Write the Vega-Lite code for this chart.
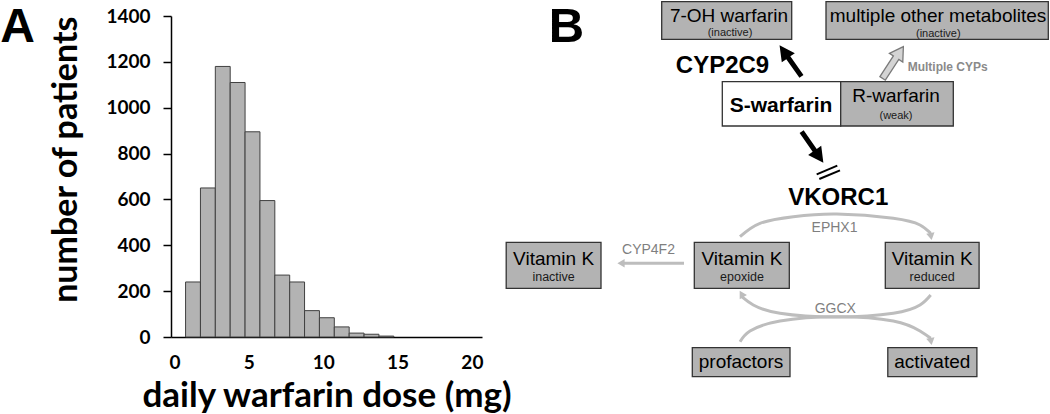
{
"$schema":"https://vega.github.io/schema/vega-lite/v6.json",
"background":"white",
"padding":{"left":0,"top":1,"right":0,"bottom":0},
"bounds":"flush",
"spacing":8,
"config":{"view":{"stroke":null},"axis":{"grid":false}},
"datasets":{
"hist":[
{"dose_start":0.75,"dose_end":1.75,"patients":240},
{"dose_start":1.75,"dose_end":2.75,"patients":650},
{"dose_start":2.75,"dose_end":3.75,"patients":1180},
{"dose_start":3.75,"dose_end":4.75,"patients":1110},
{"dose_start":4.75,"dose_end":5.75,"patients":895},
{"dose_start":5.75,"dose_end":6.75,"patients":595},
{"dose_start":6.75,"dose_end":7.75,"patients":270},
{"dose_start":7.75,"dose_end":8.75,"patients":240},
{"dose_start":8.75,"dose_end":9.75,"patients":115},
{"dose_start":9.75,"dose_end":10.75,"patients":84},
{"dose_start":10.75,"dose_end":11.75,"patients":44},
{"dose_start":11.75,"dose_end":12.75,"patients":17},
{"dose_start":12.75,"dose_end":13.75,"patients":12},
{"dose_start":13.75,"dose_end":14.75,"patients":4}
],
"boxes":[
{"name":"7-OH warfarin","left":171.7,"right":301.7,"top":1.7,"bottom":39.3,"role":"plain"},
{"name":"multiple other metabolites","left":336,"right":558.3,"top":1.7,"bottom":39.3,"role":"plain"},
{"name":"S-warfarin","left":232.3,"right":350.7,"top":81.7,"bottom":126,"role":"highlight"},
{"name":"R-warfarin","left":350.7,"right":463.3,"top":81.7,"bottom":126,"role":"plain"},
{"name":"Vitamin K inactive","left":16.2,"right":111,"top":242.3,"bottom":288.3,"role":"plain"},
{"name":"Vitamin K epoxide","left":204.3,"right":299.3,"top":242.3,"bottom":288.3,"role":"plain"},
{"name":"Vitamin K reduced","left":395.3,"right":489.1,"top":242.3,"bottom":288.3,"role":"plain"},
{"name":"profactors","left":202.3,"right":300,"top":347.7,"bottom":376.7,"role":"plain"},
{"name":"activated","left":397.8,"right":486.9,"top":347.7,"bottom":376.7,"role":"plain"}
],
"labels":[
{"text":"7-OH warfarin","x":239,"y":21.7,"kind":"main"},
{"text":"(inactive)","x":240,"y":36,"kind":"sub"},
{"text":"multiple other metabolites","x":448,"y":21.7,"kind":"main"},
{"text":"(inactive)","x":448.3,"y":36.5,"kind":"sub"},
{"text":"R-warfarin","x":406,"y":101.7,"kind":"main"},
{"text":"(weak)","x":406,"y":119.3,"kind":"sub"},
{"text":"Vitamin K","x":63.6,"y":265,"kind":"main"},
{"text":"inactive","x":63.6,"y":281,"kind":"sub2"},
{"text":"Vitamin K","x":252,"y":265,"kind":"main"},
{"text":"epoxide","x":252,"y":281,"kind":"sub2"},
{"text":"Vitamin K","x":442.2,"y":265,"kind":"main"},
{"text":"reduced","x":442.2,"y":281,"kind":"sub2"},
{"text":"profactors","x":251,"y":368.3,"kind":"main"},
{"text":"activated","x":442.3,"y":368.3,"kind":"main"},
{"text":"EPHX1","x":344.5,"y":231.7,"kind":"enzyme"},
{"text":"CYP4F2","x":158.5,"y":254.3,"kind":"enzyme"},
{"text":"GGCX","x":345.3,"y":313.3,"kind":"enzyme"},
{"text":"CYP2C9","x":232.5,"y":73.3,"kind":"gene"},
{"text":"VKORC1","x":348.3,"y":205,"kind":"gene"},
{"text":"S-warfarin","x":291,"y":112,"kind":"drug"},
{"text":"Multiple CYPs","x":457.7,"y":71,"kind":"note"},
{"text":"B","x":76.5,"y":42,"kind":"letter"}
],
"blocks":[
{"x":300.5,"y":60.85,"angle":-35.2,"kind":"strong"},
{"x":322.5,"y":147.2,"angle":145.1,"kind":"strong"},
{"x":403,"y":62.5,"angle":33.1,"kind":"weak"}
],
"links":[
{"x":326.7,"y":174.3,"xEnd":347.3,"yEnd":165.7,"kind":"inhibit"},
{"x":329.3,"y":179,"xEnd":350,"yEnd":170.3,"kind":"inhibit"},
{"x":194,"y":263.3,"xEnd":134,"yEnd":263.3,"kind":"conversion"}
],
"arcs":[
{"arc":"EPHX1","step":1,"x":250,"y":236.7},
{"arc":"EPHX1","step":2,"x":270,"y":223.3},
{"arc":"EPHX1","step":3,"x":303.3,"y":216.7},
{"arc":"EPHX1","step":4,"x":346.7,"y":214},
{"arc":"EPHX1","step":5,"x":403.3,"y":218.3},
{"arc":"EPHX1","step":6,"x":430,"y":225},
{"arc":"EPHX1","step":7,"x":440.7,"y":233.3},
{"arc":"GGCX-back","step":1,"x":440.7,"y":295},
{"arc":"GGCX-back","step":2,"x":430,"y":305},
{"arc":"GGCX-back","step":3,"x":403.3,"y":313.3},
{"arc":"GGCX-back","step":4,"x":346.7,"y":317},
{"arc":"GGCX-back","step":5,"x":290,"y":313.3},
{"arc":"GGCX-back","step":6,"x":263.3,"y":305},
{"arc":"GGCX-back","step":7,"x":251.7,"y":296.7},
{"arc":"GGCX-fwd","step":1,"x":250,"y":341.7},
{"arc":"GGCX-fwd","step":2,"x":260,"y":331},
{"arc":"GGCX-fwd","step":3,"x":290,"y":321},
{"arc":"GGCX-fwd","step":4,"x":346.7,"y":316.7},
{"arc":"GGCX-fwd","step":5,"x":403.3,"y":321},
{"arc":"GGCX-fwd","step":6,"x":430,"y":331},
{"arc":"GGCX-fwd","step":7,"x":440.7,"y":338.3}
],
"heads":[
{"x":441,"y":236.5,"angle":170},
{"x":251.5,"y":294,"angle":-30},
{"x":441,"y":341.5,"angle":170},
{"x":131,"y":263.3,"angle":-90}
]
},
"hconcat":[
{
"width":311,"height":321,
"title":{"text":"A","orient":"top","anchor":"start","frame":"group","dx":-170.7,"dy":44,"offset":-38.5,"baseline":"alphabetic","font":"Liberation Sans","fontSize":48,"fontWeight":"bold","color":"#000000"},
"data":{"name":"hist"},
"mark":{"type":"bar","fill":"#b3b3b3","stroke":"#404040","strokeWidth":1},
"encoding":{
"x":{"field":"dose_start","type":"quantitative","scale":{"domain":[-0.23,20.68],"nice":false,"zero":false},
"axis":{"values":[0,5,10,15,20],"ticks":false,"domainColor":"#000000","domainWidth":1.5,"labelFont":"Lato","labelFontSize":19,"labelFontWeight":"bold","labelColor":"#000000","labelPadding":16,"labelFlush":false,"title":"daily warfarin dose (mg)","titleFont":"Lato","titleFontSize":35,"titleFontWeight":"bold","titleColor":"#000000","titlePadding":6}},
"x2":{"field":"dose_end"},
"y":{"field":"patients","type":"quantitative","scale":{"domain":[0,1400],"nice":false},
"axis":{"values":[0,200,400,600,800,1000,1200,1400],"format":"d","tickSize":8,"tickWidth":1.5,"tickColor":"#000000","domainColor":"#000000","domainWidth":1.5,"labelFont":"Lato","labelFontSize":19,"labelFontWeight":"bold","labelColor":"#000000","labelPadding":13,"title":"number of patients","titleFont":"Lato","titleFontSize":34,"titleFontWeight":"bold","titleColor":"#000000","titlePadding":22,"titleAnchor":"end"}},
"y2":{"datum":0}
}
},
{
"width":560,"height":398,
"layer":[
{"data":{"name":"arcs"},
"mark":{"type":"line","interpolate":"natural","stroke":"#bdbdbd","strokeWidth":3},
"encoding":{"x":{"field":"x","type":"quantitative","scale":{"domain":[0,560],"nice":false,"zero":false},"axis":null},
"y":{"field":"y","type":"quantitative","scale":{"domain":[16,414],"nice":false,"zero":false,"reverse":true},"axis":null},
"detail":{"field":"arc"},"order":{"field":"step","type":"quantitative"}}},
{"data":{"name":"links"},"transform":[{"filter":{"field":"kind","equal":"conversion"}}],
"mark":{"type":"rule","stroke":"#bdbdbd","strokeWidth":3},
"encoding":{"x":{"field":"x","type":"quantitative","scale":{"domain":[0,560],"nice":false,"zero":false},"axis":null},
"y":{"field":"y","type":"quantitative","scale":{"domain":[16,414],"nice":false,"zero":false,"reverse":true},"axis":null},
"x2":{"field":"xEnd"},"y2":{"field":"yEnd"}}},
{"data":{"name":"heads"},
"mark":{"type":"point","shape":"triangle-up","filled":true,"fill":"#bdbdbd","opacity":1,"size":70},
"encoding":{"x":{"field":"x","type":"quantitative","scale":{"domain":[0,560],"nice":false,"zero":false},"axis":null},
"y":{"field":"y","type":"quantitative","scale":{"domain":[16,414],"nice":false,"zero":false,"reverse":true},"axis":null},
"angle":{"field":"angle","type":"quantitative","scale":null}}},
{"data":{"name":"links"},"transform":[{"filter":{"field":"kind","equal":"inhibit"}}],
"mark":{"type":"rule","stroke":"#000000","strokeWidth":2},
"encoding":{"x":{"field":"x","type":"quantitative","scale":{"domain":[0,560],"nice":false,"zero":false},"axis":null},
"y":{"field":"y","type":"quantitative","scale":{"domain":[16,414],"nice":false,"zero":false,"reverse":true},"axis":null},
"x2":{"field":"xEnd"},"y2":{"field":"yEnd"}}},
{"data":{"name":"boxes"},
"mark":{"type":"rect","stroke":"#333333","strokeWidth":1.3},
"encoding":{"x":{"field":"left","type":"quantitative","scale":{"domain":[0,560],"nice":false,"zero":false},"axis":null},
"x2":{"field":"right"},
"y":{"field":"top","type":"quantitative","scale":{"domain":[16,414],"nice":false,"zero":false,"reverse":true},"axis":null},
"y2":{"field":"bottom"},
"fill":{"field":"role","type":"nominal","scale":{"domain":["highlight","plain"],"range":["#ffffff","#b3b3b3"]},"legend":null}}},
{"data":{"name":"blocks"},"transform":[{"filter":{"field":"kind","equal":"strong"}}],
"mark":{"type":"point","shape":"M-0.13,1L0.13,1L0.13,-0.2L0.42,-0.2L0,-1L-0.42,-0.2L-0.13,-0.2Z","filled":true,"fill":"#000000","opacity":1,"size":1444},
"encoding":{"x":{"field":"x","type":"quantitative","scale":{"domain":[0,560],"nice":false,"zero":false},"axis":null},
"y":{"field":"y","type":"quantitative","scale":{"domain":[16,414],"nice":false,"zero":false,"reverse":true},"axis":null},
"angle":{"field":"angle","type":"quantitative","scale":null}}},
{"data":{"name":"blocks"},"transform":[{"filter":{"field":"kind","equal":"weak"}}],
"mark":{"type":"point","shape":"M-0.17,1L0.17,1L0.17,-0.3L0.42,-0.3L0,-1L-0.42,-0.3L-0.17,-0.3Z","filled":true,"fill":"#d4d4d4","stroke":"#7a7a7a","strokeWidth":1.3,"opacity":1,"size":1444},
"encoding":{"x":{"field":"x","type":"quantitative","scale":{"domain":[0,560],"nice":false,"zero":false},"axis":null},
"y":{"field":"y","type":"quantitative","scale":{"domain":[16,414],"nice":false,"zero":false,"reverse":true},"axis":null},
"angle":{"field":"angle","type":"quantitative","scale":null}}},
{"data":{"name":"labels"},"transform":[{"filter":{"field":"kind","equal":"main"}}],
"mark":{"type":"text","font":"Liberation Sans","fontSize":19,"fill":"#000000","align":"center","baseline":"alphabetic"},
"encoding":{"x":{"field":"x","type":"quantitative","scale":{"domain":[0,560],"nice":false,"zero":false},"axis":null},
"y":{"field":"y","type":"quantitative","scale":{"domain":[16,414],"nice":false,"zero":false,"reverse":true},"axis":null},
"text":{"field":"text"}}},
{"data":{"name":"labels"},"transform":[{"filter":{"field":"kind","equal":"sub"}}],
"mark":{"type":"text","font":"Liberation Sans","fontSize":11,"fill":"#1a1a1a","align":"center","baseline":"alphabetic"},
"encoding":{"x":{"field":"x","type":"quantitative","scale":{"domain":[0,560],"nice":false,"zero":false},"axis":null},
"y":{"field":"y","type":"quantitative","scale":{"domain":[16,414],"nice":false,"zero":false,"reverse":true},"axis":null},
"text":{"field":"text"}}},
{"data":{"name":"labels"},"transform":[{"filter":{"field":"kind","equal":"sub2"}}],
"mark":{"type":"text","font":"Liberation Sans","fontSize":12.5,"fill":"#1a1a1a","align":"center","baseline":"alphabetic"},
"encoding":{"x":{"field":"x","type":"quantitative","scale":{"domain":[0,560],"nice":false,"zero":false},"axis":null},
"y":{"field":"y","type":"quantitative","scale":{"domain":[16,414],"nice":false,"zero":false,"reverse":true},"axis":null},
"text":{"field":"text"}}},
{"data":{"name":"labels"},"transform":[{"filter":{"field":"kind","equal":"enzyme"}}],
"mark":{"type":"text","font":"Liberation Sans","fontSize":14,"fill":"#7f7f7f","align":"center","baseline":"alphabetic"},
"encoding":{"x":{"field":"x","type":"quantitative","scale":{"domain":[0,560],"nice":false,"zero":false},"axis":null},
"y":{"field":"y","type":"quantitative","scale":{"domain":[16,414],"nice":false,"zero":false,"reverse":true},"axis":null},
"text":{"field":"text"}}},
{"data":{"name":"labels"},"transform":[{"filter":{"field":"kind","equal":"gene"}}],
"mark":{"type":"text","font":"Liberation Sans","fontSize":24,"fontWeight":"bold","fill":"#000000","align":"center","baseline":"alphabetic"},
"encoding":{"x":{"field":"x","type":"quantitative","scale":{"domain":[0,560],"nice":false,"zero":false},"axis":null},
"y":{"field":"y","type":"quantitative","scale":{"domain":[16,414],"nice":false,"zero":false,"reverse":true},"axis":null},
"text":{"field":"text"}}},
{"data":{"name":"labels"},"transform":[{"filter":{"field":"kind","equal":"drug"}}],
"mark":{"type":"text","font":"Liberation Sans","fontSize":21,"fontWeight":"bold","fill":"#000000","align":"center","baseline":"alphabetic"},
"encoding":{"x":{"field":"x","type":"quantitative","scale":{"domain":[0,560],"nice":false,"zero":false},"axis":null},
"y":{"field":"y","type":"quantitative","scale":{"domain":[16,414],"nice":false,"zero":false,"reverse":true},"axis":null},
"text":{"field":"text"}}},
{"data":{"name":"labels"},"transform":[{"filter":{"field":"kind","equal":"note"}}],
"mark":{"type":"text","font":"Liberation Sans","fontSize":12,"fontWeight":"bold","fill":"#8a8a8a","align":"center","baseline":"alphabetic"},
"encoding":{"x":{"field":"x","type":"quantitative","scale":{"domain":[0,560],"nice":false,"zero":false},"axis":null},
"y":{"field":"y","type":"quantitative","scale":{"domain":[16,414],"nice":false,"zero":false,"reverse":true},"axis":null},
"text":{"field":"text"}}},
{"data":{"name":"labels"},"transform":[{"filter":{"field":"kind","equal":"letter"}}],
"mark":{"type":"text","font":"Liberation Sans","fontSize":49,"fontWeight":"bold","fill":"#000000","align":"center","baseline":"alphabetic"},
"encoding":{"x":{"field":"x","type":"quantitative","scale":{"domain":[0,560],"nice":false,"zero":false},"axis":null},
"y":{"field":"y","type":"quantitative","scale":{"domain":[16,414],"nice":false,"zero":false,"reverse":true},"axis":null},
"text":{"field":"text"}}}
]
}
]
}
